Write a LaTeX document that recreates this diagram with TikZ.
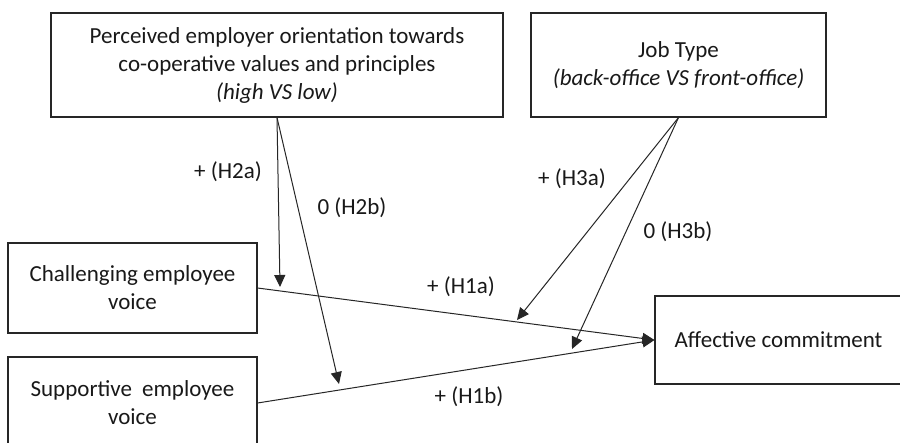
\documentclass[tikz,border=0pt]{standalone}
\usepackage{fontspec}
\setmainfont{Carlito}
\usetikzlibrary{arrows.meta}
\begin{document}
\begin{tikzpicture}[x=1pt,y=-1pt,
  box/.style={draw=black!85,line width=1.1pt,inner sep=0pt,align=center,font=\fontsize{23}{28}\selectfont,text=black!90},
  lbl/.style={inner sep=0pt,font=\fontsize{23}{28}\selectfont,text=black!90},
  con/.style={draw=black!85,line width=1pt},
  arr/.style={con,-{Triangle[length=12pt,width=11pt]}}]
\useasboundingbox[fill=white] (0,0) rectangle (900,442);
\node[box,minimum width=452pt,minimum height=104pt] (top) at (277,65)
  {Perceived employer orientation towards\\co-operative values and principles\\\textit{(high VS low)}};
\node[box,minimum width=295pt,minimum height=104pt] (job) at (678.5,65)
  {Job Type\\\textit{(back-office VS front-office)}};
\node[box,minimum width=249pt,minimum height=90pt] (chal) at (132.5,288)
  {Challenging employee\\voice};
\node[box,minimum width=249pt,minimum height=92pt] (sup) at (132.5,403)
  {Supportive\hspace{5pt} employee\\voice};
\node[box,minimum width=247pt,minimum height=88pt] (aff) at (778.5,340)
  {Affective commitment};
\draw[arr] (chal.east) -- (aff.west);
\draw[arr] (sup.east) -- (aff.west);
\coordinate (t2a) at (280,287);
\coordinate (t2b) at (339,384);
\coordinate (t3a) at (517,320);
\coordinate (t3b) at (572,349);
\draw[arr] (top.south) -- (t2a);
\draw[arr] (top.south) -- (t2b);
\draw[arr] (job.south) -- (t3a);
\draw[arr] (job.south) -- (t3b);
\node[lbl] (l2a) at (228,172) {+ (H2a)};
\node[lbl] (l2b) at (352,208) {0 (H2b)};
\node[lbl] (l3a) at (572,179) {+ (H3a)};
\node[lbl] (l3b) at (678,232) {0 (H3b)};
\node[lbl] (l1a) at (461,287) {+ (H1a)};
\node[lbl] (l1b) at (469,397) {+ (H1b)};
\end{tikzpicture}
\end{document}
